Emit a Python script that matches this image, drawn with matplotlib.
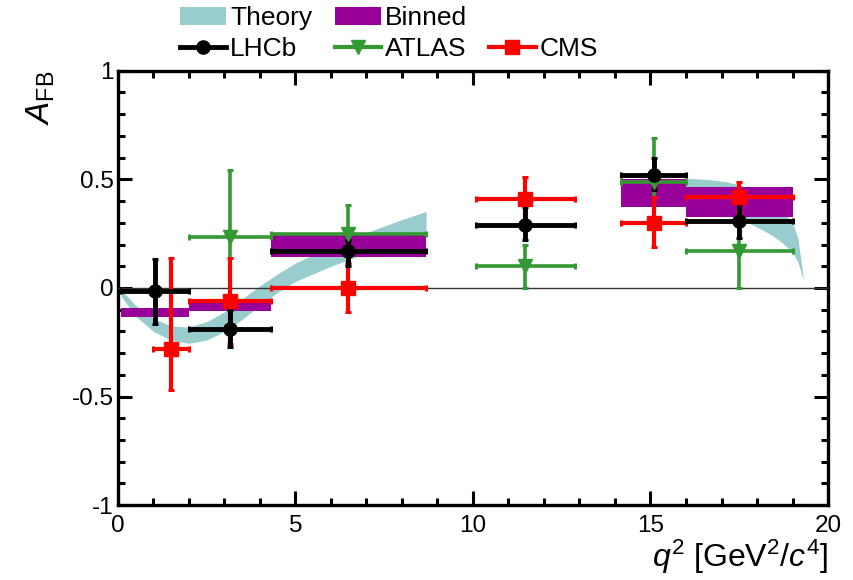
import numpy as np
import matplotlib
matplotlib.use("Agg")
import matplotlib.pyplot as plt
from matplotlib.lines import Line2D
from matplotlib.patches import Patch
from matplotlib.ticker import MultipleLocator, FixedLocator, FixedFormatter

plt.rcParams["font.family"] = ["Liberation Sans", "DejaVu Sans"]
plt.rcParams["mathtext.fontset"] = "custom"
plt.rcParams["mathtext.rm"] = "Liberation Sans"
plt.rcParams["mathtext.it"] = "Liberation Sans:italic"
plt.rcParams["axes.unicode_minus"] = False

# ── Data ──────────────────────────────────────────────────────────────────

# SM theory band, low-q2 region
theory_lo_q2 = [0.1, 0.5, 1.0, 1.5, 2.0, 2.5, 3.0, 3.5, 4.0, 4.5, 5.0, 6.0, 7.0, 8.0, 8.68]
theory_lo_up = [-0.01, -0.08, -0.14, -0.175, -0.18, -0.155, -0.11, -0.05, 0.01,
                0.065, 0.115, 0.19, 0.255, 0.315, 0.352]
theory_lo_dn = [-0.04, -0.13, -0.20, -0.24, -0.255, -0.24, -0.20, -0.145, -0.08,
                -0.02, 0.03, 0.10, 0.16, 0.21, 0.24]

# SM theory band, high-q2 region
theory_hi_q2 = [14.18, 15.0, 16.0, 16.6, 17.1, 17.5, 18.0, 18.4, 18.7, 19.0, 19.15, 19.3]
theory_hi_up = [0.49, 0.50, 0.505, 0.50, 0.49, 0.475, 0.445, 0.40, 0.36, 0.30, 0.23, 0.05]
theory_hi_dn = [0.40, 0.40, 0.385, 0.37, 0.345, 0.32, 0.28, 0.245, 0.21, 0.165, 0.12, 0.04]

# Binned theory
binned_lo = [0.1, 2.0, 4.3, 14.18, 16.0]
binned_hi = [2.0, 4.3, 8.68, 16.0, 19.0]
binned_dn = [-0.135, -0.105, 0.143, 0.375, 0.327]
binned_up = [-0.093, -0.05, 0.243, 0.50, 0.465]

# LHCb
lhcb_lo = [0.1, 2.0, 4.3, 10.09, 14.18, 16.0]
lhcb_hi = [2.0, 4.3, 8.68, 12.86, 16.0, 19.0]
lhcb_val = [-0.015, -0.19, 0.17, 0.29, 0.52, 0.31]
lhcb_eup = [0.15, 0.09, 0.05, 0.085, 0.08, 0.09]
lhcb_edn = [0.15, 0.08, 0.07, 0.07, 0.07, 0.08]

# ATLAS
atlas_lo = [2.0, 4.3, 10.09, 14.18, 16.0]
atlas_hi = [4.3, 8.68, 12.86, 16.0, 19.0]
atlas_val = [0.235, 0.25, 0.10, 0.49, 0.17]
atlas_err = [0.31, 0.13, 0.10, 0.20, 0.17]

# CMS
cms_lo = [1.0, 2.0, 4.3, 10.09, 14.18, 16.0]
cms_hi = [2.0, 4.3, 8.68, 12.86, 16.0, 19.0]
cms_val = [-0.28, -0.06, 0.0, 0.41, 0.30, 0.42]
cms_eup = [0.42, 0.20, 0.11, 0.10, 0.12, 0.07]
cms_edn = [0.19, 0.20, 0.11, 0.10, 0.11, 0.07]

ytick_vals = [-1, -0.5, 0, 0.5, 1]
ytick_labels = ["-1", "-0.5", "0", "0.5", "1"]

TEAL = "#99cccc"
PURPLE = "#990099"
GREEN = "#339933"
RED = "#ff0000"


def draw_points(ax, lo, hi, val, eup, edn, color, marker, ms, lw):
    lo = np.asarray(lo)
    hi = np.asarray(hi)
    xc = 0.5 * (lo + hi)
    ax.errorbar(xc, val, xerr=[xc - lo, hi - xc], yerr=[edn, eup],
                fmt=marker, color=color, ms=ms, elinewidth=lw,
                capsize=2.2, capthick=2.2, zorder=5)


fig = plt.figure(figsize=(8.54, 5.80), dpi=100)
ax = fig.add_axes([0.138, 0.129, 0.8316, 0.749])

ax.fill_between(theory_lo_q2, theory_lo_dn, theory_lo_up, color=TEAL, lw=0, zorder=1)
ax.fill_between(theory_hi_q2, theory_hi_dn, theory_hi_up, color=TEAL, lw=0, zorder=1)

b_lo = np.asarray(binned_lo)
ax.bar(b_lo, np.asarray(binned_up) - np.asarray(binned_dn),
       width=np.asarray(binned_hi) - b_lo, bottom=binned_dn,
       align="edge", color=PURPLE, lw=0, zorder=2)

ax.axhline(0, color="#333333", lw=1.0, zorder=3)

draw_points(ax, atlas_lo, atlas_hi, atlas_val, atlas_err, atlas_err, GREEN, "v", 10, 2.6)
draw_points(ax, cms_lo, cms_hi, cms_val, cms_eup, cms_edn, RED, "s", 9.5, 3.0)
draw_points(ax, lhcb_lo, lhcb_hi, lhcb_val, lhcb_eup, lhcb_edn, "black", "o", 9.5, 3.5)

ax.set_xlim(0, 20)
ax.set_ylim(-1, 1)
ax.xaxis.set_major_locator(MultipleLocator(5))
ax.xaxis.set_minor_locator(MultipleLocator(1))
ax.yaxis.set_major_locator(FixedLocator(ytick_vals))
ax.yaxis.set_major_formatter(FixedFormatter(ytick_labels))
ax.yaxis.set_minor_locator(MultipleLocator(0.1))
ax.tick_params(which="both", direction="in", top=True, right=True, width=2.2,
               labelsize=17.5)
ax.tick_params(which="major", length=10)
ax.tick_params(which="minor", length=5)
ax.tick_params(axis="y", pad=3)
ax.tick_params(axis="x", pad=7)
for s in ax.spines.values():
    s.set_linewidth(2.4)

ax.set_xlabel(r"$q^2$ [GeV$^2$/$c^4$]", fontsize=23, loc="right")
ax.xaxis.set_label_coords(1.0, -0.076)
ax.set_ylabel(r"$A_{\mathrm{FB}}$", fontsize=24, loc="top")
ax.yaxis.set_label_coords(-0.086, 1.0)

handles = [
    Patch(color=TEAL, lw=0),
    Line2D([], [], color="black", lw=3.5, marker="o", ms=9.5),
    Patch(color=PURPLE, lw=0),
    Line2D([], [], color=GREEN, lw=3.0, marker="v", ms=10),
    Patch(color="none", lw=0),
    Line2D([], [], color=RED, lw=3.0, marker="s", ms=9.5),
]
labels = ["Theory", "LHCb", "Binned", "ATLAS", "", "CMS"]
fig.legend(handles, labels, ncol=3, loc="upper left",
           bbox_to_anchor=(180 / 854, 1 - 6 / 580), frameon=False,
           fontsize=19, handlelength=1.75, handleheight=0.65,
           handletextpad=0.15, columnspacing=0.85, labelspacing=0.28,
           borderpad=0, borderaxespad=0)

fig.savefig("out.png", dpi=100)
